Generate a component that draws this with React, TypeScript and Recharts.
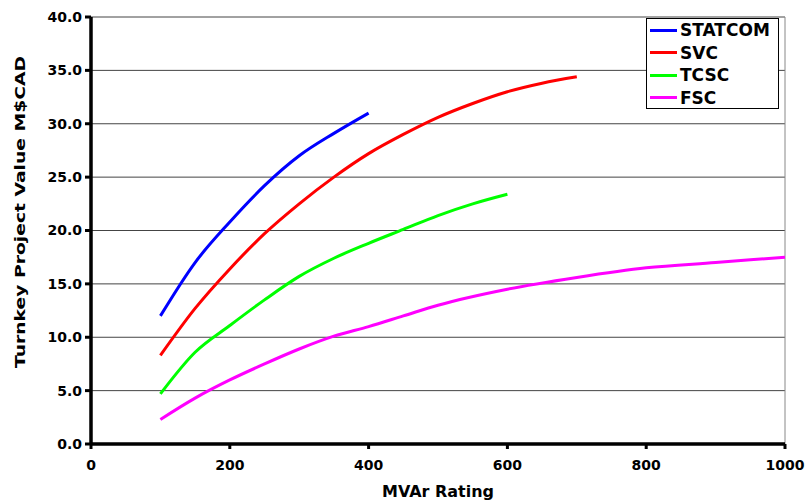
import {
  Label,
  Legend,
  Line,
  LineChart,
  ReferenceLine,
  CartesianGrid,
  XAxis,
  YAxis,
} from "recharts";

const xTicks = [0, 200, 400, 600, 800, 1000];
const yTicks = [0, 5, 10, 15, 20, 25, 30, 35, 40];

const statcom = [
  { x: 100, y: 12.0 },
  { x: 150, y: 17.0 },
  { x: 200, y: 20.8 },
  { x: 250, y: 24.2 },
  { x: 300, y: 27.0 },
  { x: 350, y: 29.1 },
  { x: 400, y: 31.0 },
];

const svc = [
  { x: 100, y: 8.3 },
  { x: 150, y: 12.7 },
  { x: 200, y: 16.4 },
  { x: 250, y: 19.7 },
  { x: 300, y: 22.5 },
  { x: 350, y: 25.0 },
  { x: 400, y: 27.2 },
  { x: 450, y: 29.0 },
  { x: 500, y: 30.6 },
  { x: 550, y: 31.9 },
  { x: 600, y: 33.0 },
  { x: 650, y: 33.8 },
  { x: 700, y: 34.4 },
];

const tcsc = [
  { x: 100, y: 4.7 },
  { x: 150, y: 8.6 },
  { x: 200, y: 11.1 },
  { x: 250, y: 13.5 },
  { x: 300, y: 15.7 },
  { x: 350, y: 17.4 },
  { x: 400, y: 18.8 },
  { x: 450, y: 20.1 },
  { x: 500, y: 21.4 },
  { x: 550, y: 22.5 },
  { x: 600, y: 23.4 },
];

const fsc = [
  { x: 100, y: 2.3 },
  { x: 150, y: 4.3 },
  { x: 200, y: 6.0 },
  { x: 250, y: 7.5 },
  { x: 300, y: 8.9 },
  { x: 350, y: 10.1 },
  { x: 400, y: 11.0 },
  { x: 450, y: 12.0 },
  { x: 500, y: 13.0 },
  { x: 600, y: 14.5 },
  { x: 700, y: 15.6 },
  { x: 800, y: 16.5 },
  { x: 900, y: 17.0 },
  { x: 1000, y: 17.5 },
];

const series = [
  { name: "STATCOM", data: statcom, color: "#0000ff" },
  { name: "SVC", data: svc, color: "#ff0000" },
  { name: "TCSC", data: tcsc, color: "#00ff00" },
  { name: "FSC", data: fsc, color: "#ff00ff" },
];

const FONT = "DejaVu Sans, Arial, sans-serif";

// legend drawn from the series list so its order stays as in the original
function LegendBox() {
  return (
    <div
      style={{
        border: "1px solid #000",
        background: "#fff",
        width: 131,
        height: 89,
        fontFamily: FONT,
        fontWeight: 700,
        fontSize: 17,
        color: "#000",
      }}
    >
      {series.map((s) => (
        <div key={s.name} style={{ display: "flex", alignItems: "center", height: 22.5 }}>
          <span
            style={{
              display: "inline-block",
              width: 27,
              height: 3,
              background: s.color,
              marginLeft: 3,
              marginRight: 3,
            }}
          />
          <span>{s.name}</span>
        </div>
      ))}
    </div>
  );
}

function YTitle() {
  const cx = 20;
  const cy = 212;
  return (
    <text
      x={cx}
      y={cy}
      transform={`rotate(-90 ${cx} ${cy})`}
      textAnchor="middle"
      dominantBaseline="central"
      fontSize={14}
      fontFamily={FONT}
      fontWeight={700}
      textLength={312}
      lengthAdjust="spacingAndGlyphs"
      fill="#000"
    >
      Turnkey Project Value M$CAD
    </text>
  );
}

function XTitle({ viewBox }: any) {
  const cx = viewBox.x + viewBox.width / 2;
  return (
    <text
      x={cx}
      y={492}
      textAnchor="middle"
      dominantBaseline="central"
      fontSize={15}
      fontFamily={FONT}
      fontWeight={700}
      textLength={112}
      lengthAdjust="spacingAndGlyphs"
      fill="#000"
    >
      MVAr Rating
    </text>
  );
}

const tickStyle = { fill: "#000", fontSize: 14, fontFamily: FONT, fontWeight: 700 };

export default function App() {
  return (
    <div style={{ position: "absolute", left: 0, top: 0 }}>
      <LineChart
        width={807}
        height={503}
        margin={{ top: 17, right: 22, bottom: 0, left: 0 }}
      >
        <CartesianGrid horizontal vertical={false} stroke="#444" strokeWidth={1} />
        <XAxis
          dataKey="x"
          type="number"
          domain={[0, 1000]}
          ticks={xTicks}
          allowDuplicatedCategory={false}
          height={59}
          stroke="#000"
          strokeWidth={3}
          axisLine={{ stroke: "#000", strokeWidth: 3 }}
          tickSize={5}
          tickLine={{ stroke: "#000", strokeWidth: 3 }}
          tick={tickStyle}
          tickMargin={11}
        >
          <Label content={<XTitle />} />
        </XAxis>
        <YAxis
          type="number"
          domain={[0, 40]}
          ticks={yTicks}
          width={91}
          stroke="#000"
          strokeWidth={3}
          axisLine={{ stroke: "#000", strokeWidth: 3 }}
          tickSize={6}
          tickLine={{ stroke: "#000", strokeWidth: 3 }}
          tick={tickStyle}
          tickFormatter={(v: number) => v.toFixed(1)}
          tickMargin={3}
        >
          <Label content={<YTitle />} />
        </YAxis>
        <ReferenceLine x={1000} stroke="#888" strokeWidth={1} />
        <ReferenceLine x={0} stroke="#000" strokeWidth={3} />
        <ReferenceLine y={0} stroke="#000" strokeWidth={3} />
        {series.map((s) => (
          <Line
            key={s.name}
            data={s.data}
            dataKey="y"
            name={s.name}
            type="monotone"
            stroke={s.color}
            strokeWidth={3}
            dot={false}
            activeDot={false}
            isAnimationActive={false}
          />
        ))}
        <Legend
          layout="vertical"
          align="center"
          verticalAlign="middle"
          content={<LegendBox />}
          wrapperStyle={{ position: "absolute", left: 646, top: 18, width: "auto" }}
        />
      </LineChart>
    </div>
  );
}
